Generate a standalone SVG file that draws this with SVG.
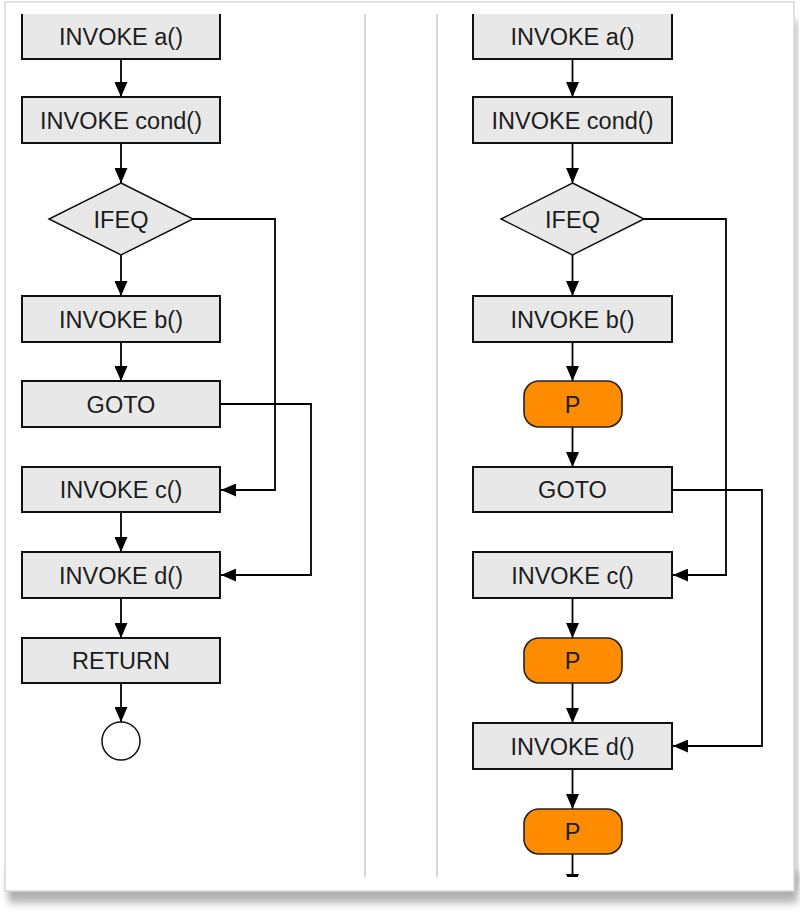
<svg xmlns="http://www.w3.org/2000/svg" width="800" height="914" viewBox="0 0 800 914">
  <defs>
    <style>
      .box { fill: #e8e8e8; stroke: #111; stroke-width: 2; }
      .dia { fill: #e8e8e8; stroke: #111; stroke-width: 1.5; }
      .p { fill: #ff8c00; stroke: #222; stroke-width: 1.6; }
      .end { fill: #fff; stroke: #111; stroke-width: 1.5; }
      .lbl { font-family: "Liberation Sans", Arial, Helvetica, sans-serif; font-size: 23.5px; fill: #1c1c1c; text-anchor: middle; }
      .edge { fill: none; stroke: #000; stroke-width: 1.8; marker-end: url(#arrow); }
      .div { stroke: #c9c9c9; stroke-width: 1.5; }
    </style>
    <marker id="arrow" markerUnits="userSpaceOnUse" markerWidth="16" markerHeight="13" refX="15" refY="6.5" orient="auto">
      <path d="M0,0 L15,6.5 L0,13 z" fill="#000"/>
    </marker>
    <clipPath id="clip">
      <rect x="0" y="14" width="800" height="863"/>
    </clipPath>
    <filter id="blur" x="-5%" y="-20%" width="110%" height="140%">
      <feGaussianBlur stdDeviation="3.5"/>
    </filter>
    <linearGradient id="shade" x1="0" y1="0" x2="0" y2="1">
      <stop offset="0" stop-color="#7a7a7a"/>
      <stop offset="1" stop-color="#c8c8c8"/>
    </linearGradient>
  </defs>

  <rect width="800" height="914" fill="#fff"/>
  <!-- card shadow -->
  <rect x="8" y="872" width="790" height="32" fill="url(#shade)" filter="url(#blur)"/>
  <rect x="791" y="20" width="7" height="870" fill="#c0c0c0" filter="url(#blur)"/>
  <!-- card -->
  <rect x="5" y="2" width="789" height="889" fill="#fff" stroke="#d8d8d8" stroke-width="1.5"/>

  <g clip-path="url(#clip)">
    <!-- dividers -->
    <line class="div" x1="365" y1="14" x2="365" y2="877"/>
    <line class="div" x1="437" y1="14" x2="437" y2="877"/>

    <g id="connectors">
      <!-- left -->
      <line class="edge" x1="121" y1="59" x2="121" y2="97"/>
      <line class="edge" x1="121" y1="143" x2="121" y2="183"/>
      <line class="edge" x1="121" y1="255" x2="121" y2="296"/>
      <line class="edge" x1="121" y1="342" x2="121" y2="381"/>
      <polyline class="edge" points="193,219 275,219 275,490 221,490"/>
      <polyline class="edge" points="221,404 311,404 311,575 221,575"/>
      <line class="edge" x1="121" y1="512" x2="121" y2="552"/>
      <line class="edge" x1="121" y1="598" x2="121" y2="638"/>
      <line class="edge" x1="121" y1="683" x2="121" y2="722"/>
      <!-- right -->
      <line class="edge" x1="572.5" y1="59" x2="572.5" y2="97"/>
      <line class="edge" x1="572.5" y1="143" x2="572.5" y2="183"/>
      <line class="edge" x1="572.5" y1="255" x2="572.5" y2="296"/>
      <line class="edge" x1="572.5" y1="342" x2="572.5" y2="381"/>
      <line class="edge" x1="572.5" y1="427" x2="572.5" y2="467"/>
      <polyline class="edge" points="644,219 726,219 726,575 673,575"/>
      <polyline class="edge" points="673,490 762,490 762,746 673,746"/>
      <line class="edge" x1="572.5" y1="598" x2="572.5" y2="638"/>
      <line class="edge" x1="572.5" y1="683" x2="572.5" y2="723"/>
      <line class="edge" x1="572.5" y1="769" x2="572.5" y2="809"/>
      <line class="edge" x1="572.5" y1="854" x2="572.5" y2="889"/>
    </g>

    <!-- left column -->
    <g id="L_a"><rect class="box" x="22" y="12" width="198" height="47"/><text class="lbl" x="121" y="44.5">INVOKE a()</text></g>
    <g id="L_cond"><rect class="box" x="22" y="97" width="198" height="46"/><text class="lbl" x="121" y="128.5">INVOKE cond()</text></g>
    <g id="L_ifeq"><polygon class="dia" points="121,183 193,219 121,255 49,219"/><text class="lbl" x="121" y="227.5">IFEQ</text></g>
    <g id="L_b"><rect class="box" x="22" y="296" width="198" height="46"/><text class="lbl" x="121" y="327.5">INVOKE b()</text></g>
    <g id="L_goto"><rect class="box" x="22" y="381" width="198" height="46"/><text class="lbl" x="121" y="412.5">GOTO</text></g>
    <g id="L_c"><rect class="box" x="22" y="467" width="198" height="45"/><text class="lbl" x="121" y="498">INVOKE c()</text></g>
    <g id="L_d"><rect class="box" x="22" y="552" width="198" height="46"/><text class="lbl" x="121" y="583.5">INVOKE d()</text></g>
    <g id="L_return"><rect class="box" x="22" y="638" width="198" height="45"/><text class="lbl" x="121" y="669">RETURN</text></g>
    <g id="L_end"><circle class="end" cx="121" cy="741" r="19"/></g>

    <!-- right column -->
    <g id="R_a"><rect class="box" x="473" y="12" width="199" height="47"/><text class="lbl" x="572.5" y="44.5">INVOKE a()</text></g>
    <g id="R_cond"><rect class="box" x="473" y="97" width="199" height="46"/><text class="lbl" x="572.5" y="128.5">INVOKE cond()</text></g>
    <g id="R_ifeq"><polygon class="dia" points="572.5,183 644,219 572.5,255 501,219"/><text class="lbl" x="572.5" y="227.5">IFEQ</text></g>
    <g id="R_b"><rect class="box" x="473" y="296" width="199" height="46"/><text class="lbl" x="572.5" y="327.5">INVOKE b()</text></g>
    <g id="R_p1"><rect class="p" x="524" y="381" width="98" height="46" rx="15" ry="15"/><text class="lbl" x="572.5" y="412.5">P</text></g>
    <g id="R_goto"><rect class="box" x="473" y="467" width="199" height="45"/><text class="lbl" x="572.5" y="498">GOTO</text></g>
    <g id="R_c"><rect class="box" x="473" y="552" width="199" height="46"/><text class="lbl" x="572.5" y="583.5">INVOKE c()</text></g>
    <g id="R_p2"><rect class="p" x="524" y="638" width="98" height="45" rx="15" ry="15"/><text class="lbl" x="572.5" y="669">P</text></g>
    <g id="R_d"><rect class="box" x="473" y="723" width="199" height="46"/><text class="lbl" x="572.5" y="754.5">INVOKE d()</text></g>
    <g id="R_p3"><rect class="p" x="524" y="809" width="98" height="45" rx="15" ry="15"/><text class="lbl" x="572.5" y="840">P</text></g>
  </g>
</svg>
